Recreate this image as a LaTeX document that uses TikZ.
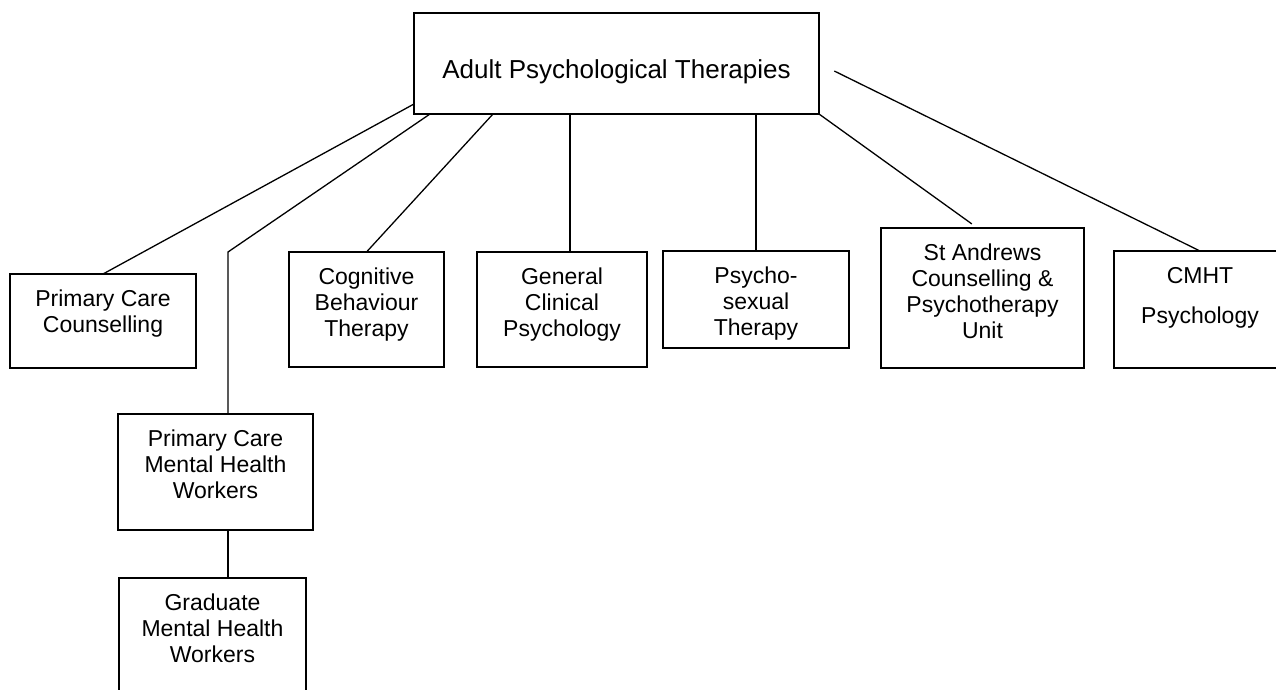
\documentclass[tikz,border=0pt]{standalone}
\usepackage{fontspec}
\setmainfont{Liberation Sans}
\usetikzlibrary{positioning}

% text block of a unit box: width, height, lines
\newcommand{\unitlines}[3]{\parbox[c][#2][t]{#1}{\centering\fontsize{23}{26}\selectfont\rule{0pt}{32pt}#3}}

\tikzset{
  unit/.style={draw,line width=1.3pt,inner sep=0pt,outer sep=0pt,anchor=north west},
  link/.style={line width=1.3pt}
}

\begin{document}
\begin{tikzpicture}[x=1pt,y=-1pt]
  \useasboundingbox (0,0) rectangle (1276,690);
  %head of service
  \node[unit] (apt) at (414,13) {\parbox[c][101pt][t]{405pt}{\centering\fontsize{26}{30}\selectfont\rule{0pt}{66pt}Adult Psychological Therapies}};
  %services
  \node[unit] (pcc) at (10,274) {\unitlines{186pt}{94pt}{Primary Care\\Counselling}};
  \node[unit] (pcmhw) at (118,414) {\unitlines{195pt}{116pt}{Primary Care\\Mental Health\\Workers}};
  \node[unit] (gmhw) at (119,578) {\unitlines{187pt}{116pt}{Graduate\\Mental Health\\Workers}};
  \node[unit] (cbt) at (289,252) {\unitlines{155pt}{115pt}{Cognitive\\Behaviour\\Therapy}};
  \node[unit] (gcp) at (477,252) {\unitlines{170pt}{115pt}{General\\Clinical\\Psychology}};
  \node[unit] (pst) at (663,251) {\unitlines{186pt}{97pt}{Psycho-\\sexual\\Therapy}};
  \node[unit] (sacp) at (881,228) {\unitlines{203pt}{140pt}{St Andrews\\Counselling \&\\Psychotherapy\\Unit}};
  \node[unit] (cmht) at (1114,251) {\unitlines{172pt}{117pt}{CMHT\\[14pt]Psychology}};

  %links
  \coordinate (bend) at (228,252);
  \coordinate (gcptop) at ([xshift=156pt]apt.south west);
  \draw[link] ([yshift=10pt]apt.south west) -- (pcc.north);
  \draw[link] ([xshift=16pt]apt.south west) -- (bend) -- (bend |- pcmhw.north);
  \draw[link] (bend |- pcmhw.south) -- (bend |- gmhw.north);
  \draw[link] ([xshift=79pt]apt.south west) -- (cbt.north);
  \draw[link] (gcptop) -- (gcptop |- gcp.north);
  \draw[link] (pst.north |- apt.south) -- (pst.north);
  \draw[link,shorten >=7pt] (apt.south east) -- ([xshift=-5pt]sacp.north);
  \draw[link,shorten <=17pt] (apt.east) -- (cmht.north);
\end{tikzpicture}
\end{document}
